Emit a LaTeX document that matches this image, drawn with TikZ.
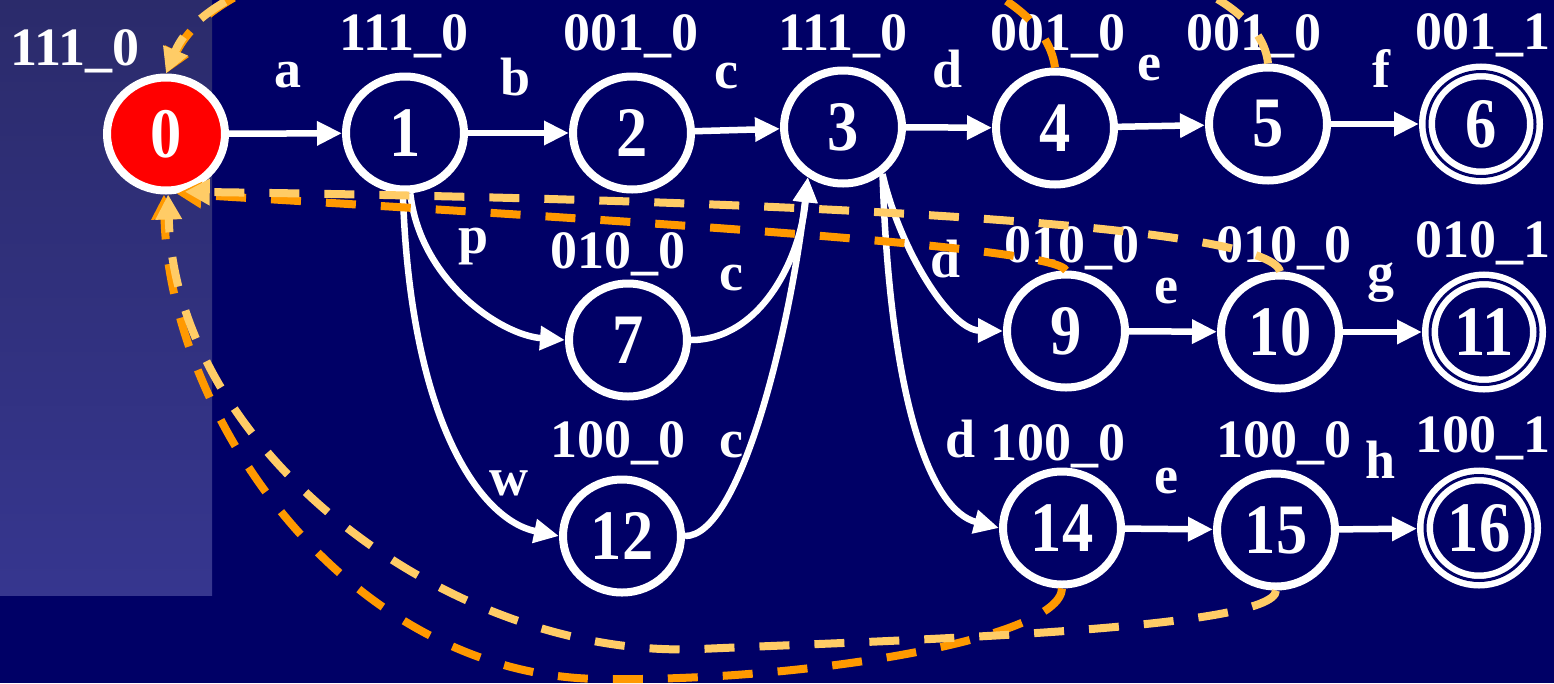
\documentclass[tikz,border=0pt]{standalone}
\usepackage{fontspec}
\setmainfont{Liberation Serif}
\newfontfamily\numfont[FakeStretch=0.88]{Liberation Serif}
\usetikzlibrary{arrows.meta,shapes.geometric}
\definecolor{bg}{HTML}{000066}
\definecolor{dorange}{HTML}{FF9900}
\definecolor{lorange}{HTML}{FFCC66}
\definecolor{panA}{HTML}{2B2B6B}
\definecolor{panB}{HTML}{36368F}
\begin{document}
\begin{tikzpicture}[x=1pt,y=-1pt,
  state/.style={ellipse, draw=white, line width=8pt, fill=bg, minimum width=118pt, minimum height=113pt, inner sep=0pt, outer sep=4pt, text=white, font=\numfont\fontsize{71}{76}\selectfont\bfseries},
  accept/.style={state, double=bg, double distance=3pt, line width=6.5pt, minimum width=108pt, minimum height=105pt, outer sep=8pt},
  lab/.style={text=white, font=\fontsize{54}{60}\selectfont\bfseries, inner sep=0pt, anchor=base},
  wline/.style={draw=white, line width=6.5pt, -{Triangle[length=25pt,width=23pt]}},
  dline/.style={line width=8pt, dash pattern=on 30pt off 25pt, -{Triangle[length=25pt,width=25pt]}},
  dark/.style={dline, draw=dorange},
  light/.style={dline, draw=lorange}]
\useasboundingbox (0,0) rectangle (1554,683);
\clip (0,0) rectangle (1554,683);
\fill[bg] (0,0) rectangle (1554,683);
\shade[top color=panA, bottom color=panB] (0,0) rectangle (212,595);

% states
\node[state, fill=red] (s0) at (166,134) {0};
\node[state] (s1) at (405,133) {1};
\node[state] (s2) at (632,133) {2};
\node[state] (s3) at (843,127) {3};
\node[state] (s4) at (1055,128) {4};
\node[state] (s5) at (1268,124) {5};
\node[accept] (s6) at (1481,124) {6};
\node[state] (s7) at (628,340) {7};
\node[state] (s9) at (1066,331) {9};
\node[state] (s10) at (1280,332) {10};
\node[accept] (s11) at (1484,332) {11};
\node[state] (s12) at (622,536) {12};
\node[state] (s14) at (1062,528) {14};
\node[state] (s15) at (1276,530) {15};
\node[accept] (s16) at (1479,528) {16};

% state tags
\node[lab] (t0) at (75,65) {111\_0};
\node[lab] (t1) at (404,50) {111\_0};
\node[lab] (t2) at (631,50) {001\_0};
\node[lab] (t3) at (843,50) {111\_0};
\node[lab] (t4) at (1058,50) {001\_0};
\node[lab] (t5) at (1254,50) {001\_0};
\node[lab] (t6) at (1483,49) {001\_1};
\node[lab] (t7) at (618,268) {010\_0};
\node[lab] (t9) at (1072,262) {010\_0};
\node[lab] (t10) at (1284,262) {010\_0};
\node[lab] (t11) at (1483,257) {010\_1};
\node[lab] (t12) at (618,457) {100\_0};
\node[lab] (t14) at (1058,460) {100\_0};
\node[lab] (t15) at (1284,457) {100\_0};
\node[lab] (t16) at (1483,452) {100\_1};

% transitions
\draw[wline] (s0) -- (s1);
\draw[wline] (s1) -- (s2);
\draw[wline] (s2) -- (s3);
\draw[wline] (s3) -- (s4);
\draw[wline] (s4) -- (s5);
\draw[wline] (s5) -- (s6);
\draw[wline] (s1.-85) .. controls (420,280) and (500,335) .. (s7.west);
\draw[wline] (s1.-92) .. controls (410,420) and (480,520) .. (s12.west);
\draw[wline] (s7.east) .. controls (760,340) and (800,260) .. (s3.235);
\draw[wline] (s12.east) .. controls (740,537) and (790,330) .. (s3.235);
\draw[wline] (s3.-50) .. controls (900,250) and (950,330) .. (s9.west);
\draw[wline] (s3.-50) .. controls (890,400) and (930,510) .. (s14.west);
\draw[wline] (s9) -- (s10);
\draw[wline] (s10) -- (s11);
\draw[wline] (s14) -- (s15);
\draw[wline] (s15) -- (s16);

% transition labels
\node[lab] (la) at (288,87) {a};
\node[lab] (lb) at (516,95) {b};
\node[lab] (lc1) at (726,88) {c};
\node[lab] (ld1) at (948,87) {d};
\node[lab] (le1) at (1149,80) {e};
\node[lab] (lf) at (1381,87) {f};
\node[lab] (lp) at (474,253) {p};
\node[lab] (lc2) at (731,290) {c};
\node[lab] (lw) at (509,495) {w};
\node[lab] (lc3) at (731,457) {c};
\node[lab] (ld2) at (946,277) {d};
\node[lab] (le2) at (1166,303) {e};
\node[lab] (lg) at (1381,290) {g};
\node[lab] (ld3) at (961,457) {d};
\node[lab] (le3) at (1166,493) {e};
\node[lab] (lh) at (1380,478) {h};

% dashed back arrows
\draw[dark] (s4.north) .. controls (1030,-120) and (260,-120) .. (s0.north);
\draw[dark] (s9.north) .. controls (1056,248) and (700,225) .. (s0.-80);
\draw[dark] (s14.south) .. controls (1060,640) and (800,682) .. (600,679) .. controls (350,676) and (170,420) .. (s0.-92);
\draw[light] (s5.north) .. controls (1250,-130) and (250,-130) .. (s0.north);
\draw[light] (s10.north) .. controls (1270,225) and (800,200) .. (s0.-72);
\draw[light] (s15.south) .. controls (1275,630) and (900,640) .. (700,649) .. controls (450,660) and (175,450) .. (s0.-88);
\end{tikzpicture}
\end{document}
